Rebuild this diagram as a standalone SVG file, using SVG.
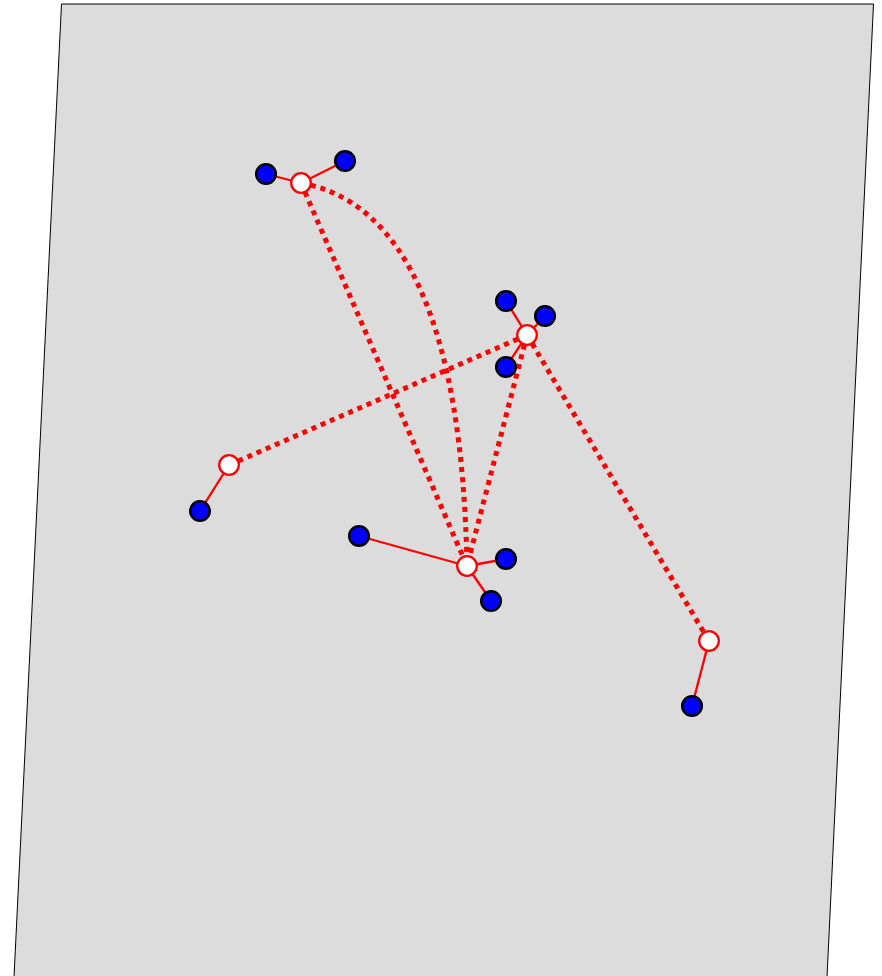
<svg xmlns="http://www.w3.org/2000/svg" width="882" height="976" viewBox="0 0 882 976">
<style>
.plane{fill:#dcdcdc;stroke:#000;stroke-width:1}
.solid{stroke:#ff0000;stroke-width:2.3;fill:none}
.dot{stroke:#ff0000;stroke-width:5;stroke-dasharray:5 5;fill:none}
.hub{fill:#fff;stroke:#ff0000;stroke-width:2.3}
.leaf{fill:#0000ff;stroke:#000;stroke-width:2.5}
</style>
<polygon class="plane" points="61.5,4 873.5,4 827,977 14,977"/>
<g id="connectors">
<line class="solid" x1="301" y1="183" x2="266" y2="174"/>
<line class="solid" x1="301" y1="183" x2="345" y2="161"/>
<line class="solid" x1="527" y1="335" x2="506" y2="301"/>
<line class="solid" x1="527" y1="335" x2="545" y2="316"/>
<line class="solid" x1="527" y1="335" x2="506" y2="367"/>
<line class="solid" x1="229" y1="465" x2="200" y2="511"/>
<line class="solid" x1="467" y1="566" x2="359" y2="536"/>
<line class="solid" x1="467" y1="566" x2="506" y2="559"/>
<line class="solid" x1="467" y1="566" x2="491" y2="601"/>
<line class="solid" x1="709" y1="641" x2="692" y2="706"/>
<line class="dot" x1="301" y1="183" x2="467" y2="566"/>
<path class="dot" d="M301,183 Q460,212 467,566"/>
<line class="dot" x1="527" y1="335" x2="229" y2="465"/>
<line class="dot" x1="527" y1="335" x2="467" y2="566"/>
<line class="dot" x1="527" y1="335" x2="709" y2="641"/>
</g>
<g id="n1"><circle class="hub" cx="301" cy="183" r="9.8"/></g>
<g id="n2"><circle class="hub" cx="527" cy="335" r="9.8"/></g>
<g id="n3"><circle class="hub" cx="229" cy="465" r="9.8"/></g>
<g id="n4"><circle class="hub" cx="467" cy="566" r="9.8"/></g>
<g id="n5"><circle class="hub" cx="709" cy="641" r="9.8"/></g>
<g id="b1"><circle class="leaf" cx="266" cy="174" r="9.8"/></g>
<g id="b2"><circle class="leaf" cx="345" cy="161" r="9.8"/></g>
<g id="b3"><circle class="leaf" cx="506" cy="301" r="9.8"/></g>
<g id="b4"><circle class="leaf" cx="545" cy="316" r="9.8"/></g>
<g id="b5"><circle class="leaf" cx="506" cy="367" r="9.8"/></g>
<g id="b6"><circle class="leaf" cx="200" cy="511" r="9.8"/></g>
<g id="b7"><circle class="leaf" cx="359" cy="536" r="9.8"/></g>
<g id="b8"><circle class="leaf" cx="506" cy="559" r="9.8"/></g>
<g id="b9"><circle class="leaf" cx="491" cy="601" r="9.8"/></g>
<g id="b10"><circle class="leaf" cx="692" cy="706" r="9.8"/></g>
</svg>
